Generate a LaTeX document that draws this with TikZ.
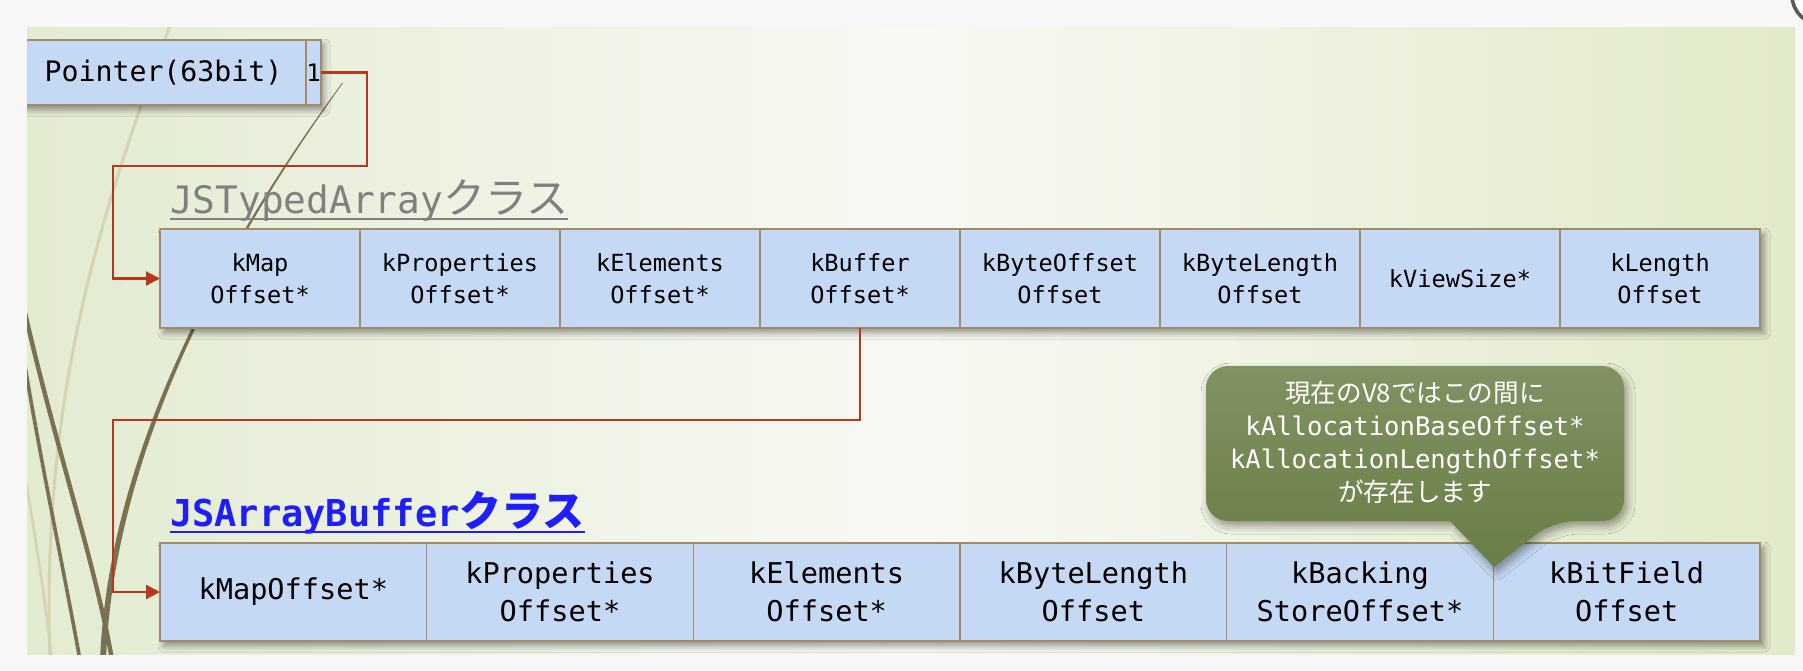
\documentclass[tikz,border=0pt]{standalone}
\usepackage{fontspec}
\newfontfamily\mono{DejaVu Sans Mono}
\newfontfamily\jp{Noto Sans CJK JP}
\usetikzlibrary{arrows.meta,shadows.blur}
\definecolor{cellfill}{RGB}{198,217,244}
\definecolor{cellborder}{RGB}{163,139,104}
\definecolor{connred}{RGB}{184,56,30}
\definecolor{outerbg}{RGB}{247,247,247}
\definecolor{slideL}{RGB}{227,235,209}
\definecolor{slideM}{RGB}{248,249,243}
\definecolor{slideR}{RGB}{225,234,201}
\definecolor{wispdark}{RGB}{122,112,82}
\definecolor{wisppale}{RGB}{212,211,178}
\definecolor{calltop}{RGB}{128,146,98}
\definecolor{callbot}{RGB}{106,126,70}
\definecolor{titlegray}{RGB}{128,128,128}
\definecolor{titleblue}{RGB}{30,30,250}
\begin{document}
\begin{tikzpicture}[x=0.5pt,y=-0.5pt,
  cellbase/.style={draw=cellborder, fill=cellfill, line width=0.8pt, inner sep=0pt, outer sep=0pt, align=center},
  cellA/.style={cellbase, minimum width=100pt, minimum height=49.5pt, font=\mono\fontsize{11.8}{16}\selectfont},
  cellB/.style={cellbase, minimum width=133.33pt, minimum height=49pt, font=\mono\fontsize{14.3}{19}\selectfont},
  rowshadow/.style={fill=cellfill, blur shadow={shadow xshift=2pt, shadow yshift=-2.5pt, shadow blur radius=3pt, shadow opacity=40}},
  conn/.style={draw=connred, line width=1.1pt, -{Triangle[length=7pt,width=7pt]}},
  titlebox/.style={inner sep=0pt, outer sep=0pt, anchor=base west}
]
\useasboundingbox (0,0) rectangle (1803,670);
\fill[outerbg] (0,0) rectangle (1803,670);
% slide background
\shade[left color=slideL, right color=slideR, middle color=slideM] (27,27) rectangle (1795,654);
\draw[black!65, line width=1.8pt, fill=white] (1822,-5) circle[radius=15pt];
\begin{scope}
\clip (27,27) rectangle (1795,654);
% wisp decorations
\draw[wisppale, line width=1.5pt] (172,20) .. controls (110,190) and (40,380) .. (50,660);
\draw[wisppale, line width=1.3pt] (20,450) .. controls (35,530) and (45,600) .. (52,660);
\draw[wispdark, line width=2.2pt] (20,290) .. controls (50,430) and (95,560) .. (112,660);
\draw[wispdark, line width=1.8pt] (20,335) .. controls (38,450) and (62,560) .. (80,660);
\fill[wispdark] (342,83) .. controls (260,195) and (110,420) .. (100,660) -- (106,660) .. controls (115,420) and (262,196) .. (343,83) -- cycle;
% pointer box
\path[rowshadow] (20,40) rectangle (320,105);
\node[cellbase, minimum width=143.5pt, minimum height=32.5pt, font=\mono\fontsize{14.1}{16}\selectfont] (ptr) at (163.5,72.5) {Pointer(63bit)};
\end{scope}
\node[cellbase, minimum width=6.5pt, minimum height=32.5pt, font=\mono\fontsize{12}{14}\selectfont] (p1) at (313.5,72.5) {1};

% titles
\node[titlebox, text=titlegray] (title1) at (170,213) {{\mono\fontsize{18.9}{22}\selectfont JSTypedArray}{\jp\fontsize{21}{22}\selectfont クラス}};
\draw[titlegray, line width=1pt] ([yshift=-3pt]title1.base west) -- ([yshift=-3pt]title1.base east);

\node[titlebox, text=titleblue] (title2) at (170,526) {{\mono\bfseries\fontsize{18.5}{22}\selectfont JSArrayBuffer}{\jp\bfseries\fontsize{21}{22}\selectfont クラス}};
\draw[titleblue, line width=1.4pt] ([yshift=-3pt]title2.base west) -- ([yshift=-3pt]title2.base east);

% row 1
\path[rowshadow] (160,229) rectangle (1760,328);
\node[cellA] (t1) at (260,278.5) {kMap\\Offset*};
\node[cellA] (t2) at (460,278.5) {kProperties\\Offset*};
\node[cellA] (t3) at (660,278.5) {kElements\\Offset*};
\node[cellA] (t4) at (860,278.5) {kBuffer\\Offset*};
\node[cellA] (t5) at (1060,278.5) {kByteOffset\\Offset};
\node[cellA] (t6) at (1260,278.5) {kByteLength\\Offset};
\node[cellA] (t7) at (1460,278.5) {kViewSize*};
\node[cellA] (t8) at (1660,278.5) {kLength\\Offset};

% row 2
\path[rowshadow] (160,543) rectangle (1760,641);
\node[cellB] (b1) at (293.33,592) {kMapOffset*};
\node[cellB] (b2) at (560,592) {kProperties\\Offset*};
\node[cellB] (b3) at (826.67,592) {kElements\\Offset*};
\node[cellB] (b4) at (1093.33,592) {kByteLength\\Offset};
\node[cellB] (b5) at (1360,592) {kBacking\\StoreOffset*};
\node[cellB] (b6) at (1626.67,592) {kBitField\\Offset};

% connectors
\draw[conn] (p1.east) -- (367,72.5) -- (367,166) -- (113,166) |- (t1.west);
\draw[conn] (t4.south) -- (860,420) -- (113,420) |- (b1.west);

% callout
\path[top color=calltop, bottom color=callbot, blur shadow={shadow xshift=1.5pt, shadow yshift=-2.5pt, shadow blur radius=4pt, shadow opacity=40}]
  (1415,366) [rounded corners=11pt] -- (1624,366) -- (1624,521) -- (1553,521) [sharp corners] -- (1494,567) -- (1450,521) [rounded corners=11pt] -- (1206,521) -- (1206,366) -- cycle;
\node[text=white, align=center, inner sep=0pt, font=\fontsize{12.8}{16.5}\selectfont] (calltext) at (1415,442)
  {{\jp 現在のV8ではこの間に}\\{\mono kAllocationBaseOffset*}\\{\mono kAllocationLengthOffset*}\\{\jp が存在します}};
\end{tikzpicture}
\end{document}
